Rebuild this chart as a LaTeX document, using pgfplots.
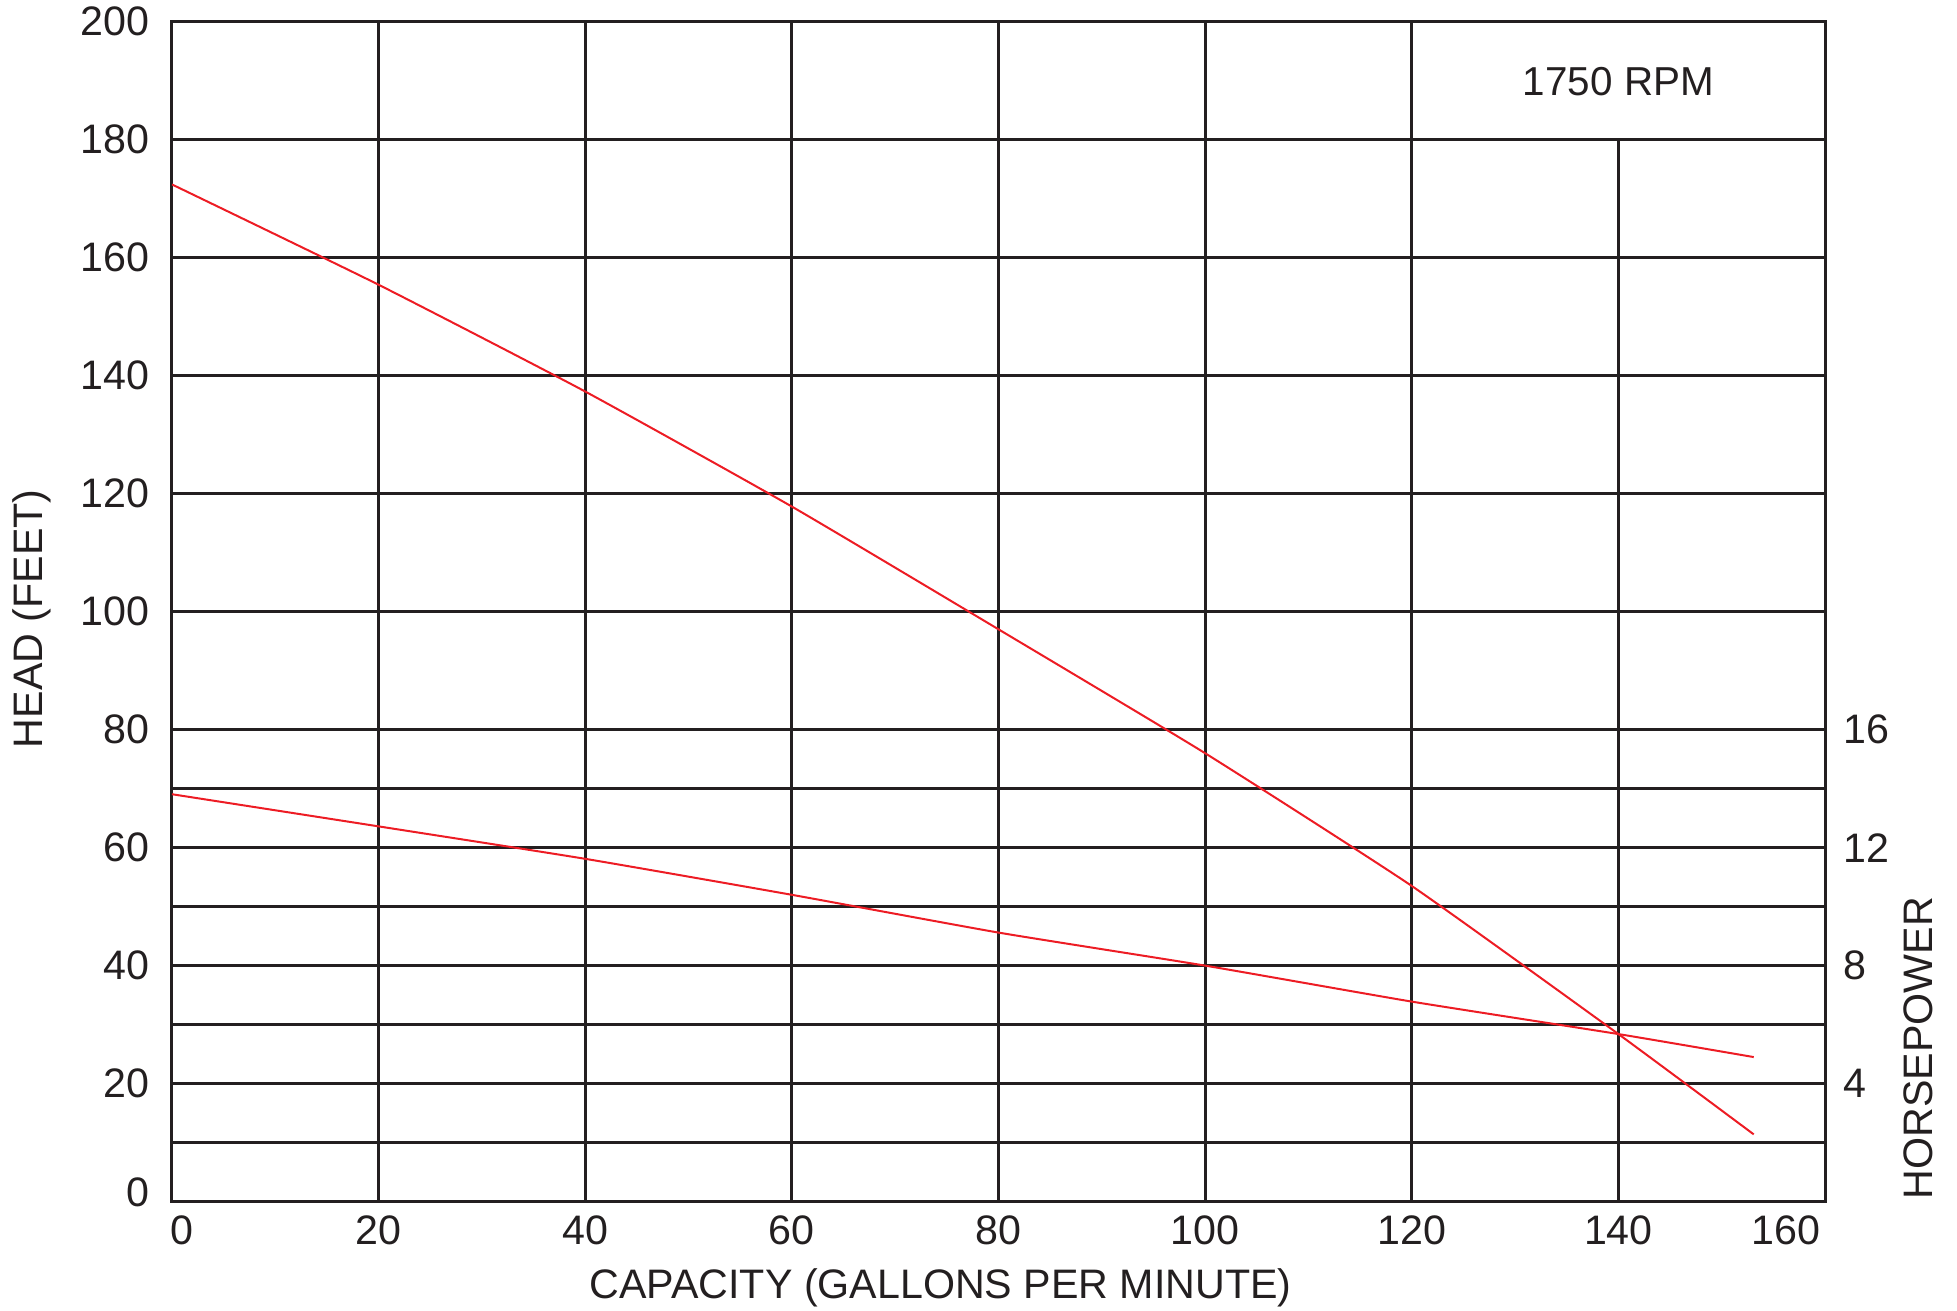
\documentclass[border=0pt]{standalone}
\usepackage{fontspec}
\setmainfont{Liberation Sans}
\usepackage{pgfplots}
\pgfplotsset{compat=1.18}
\definecolor{ink}{RGB}{35,31,32}
\definecolor{curve}{RGB}{237,28,36}
\begin{document}
\fontsize{10.3}{12}\selectfont
\begin{tikzpicture}
\begin{axis}[
  name=ax,
  scale only axis, width=413.25pt, height=295pt,
  xmin=0, xmax=160, ymin=0, ymax=200,
  xtick={0,20,40,60,80,100,120,140,160},
  ytick={0,20,40,60,80,100,120,140,160,180,200},
  xticklabels={\hspace*{5pt}0,20,40,60,80,100,120,140,160\hspace*{19.5pt}},
  yticklabels={\raisebox{5pt}{0},20,40,60,80,100,120,140,160,180,200},
  extra y ticks={10,30,50,70}, extra y tick labels={},
  extra y tick style={grid=major},
  ymajorgrids,
  grid style={ink, line width=0.75pt},
  axis line style={ink, line width=0.75pt},
  major tick length=0pt,
  tick label style={font=\fontsize{10.3}{12}\selectfont, text=ink},
  yticklabel style={xshift=-2pt},
  xlabel={CAPACITY (GALLONS PER MINUTE)},
  ylabel={HEAD (FEET)},
  every axis x label/.style={at={(axis description cs:0.465,-0.0732)}, anchor=center, font=\fontsize{10.3}{12}\selectfont, text=ink},
  every axis y label/.style={at={(axis description cs:-0.0845,0.494)}, rotate=90, anchor=center, font=\fontsize{10.3}{12}\selectfont, text=ink},
]
\draw[ink, line width=0.75pt] (axis cs:20,0) -- (axis cs:20,200);
\draw[ink, line width=0.75pt] (axis cs:40,0) -- (axis cs:40,200);
\draw[ink, line width=0.75pt] (axis cs:60,0) -- (axis cs:60,200);
\draw[ink, line width=0.75pt] (axis cs:80,0) -- (axis cs:80,200);
\draw[ink, line width=0.75pt] (axis cs:100,0) -- (axis cs:100,200);
\draw[ink, line width=0.75pt] (axis cs:120,0) -- (axis cs:120,200);
\draw[ink, line width=0.75pt] (axis cs:140,0) -- (axis cs:140,180);
\addplot[curve, line width=0.5pt, smooth, tension=0.3] coordinates {
  (0,172.4) (20,155.4) (40,137.3) (60,117.8) (80,97.0)
  (100,76.0) (120,53.5) (140,28.4) (153.1,11.4)
};
\node[font=\fontsize{10.1}{12}\selectfont, text=ink] at (axis cs:140,189.8) {1750 RPM};
\end{axis}
\begin{axis}[
  scale only axis, width=413.25pt, height=295pt,
  xmin=0, xmax=160, ymin=0, ymax=40,
  axis x line=none,
  axis y line*=right,
  ytick={4,8,12,16},
  yticklabels={4,8,12,16},
  axis line style={ink, line width=0.75pt},
  major tick length=0pt,
  tick label style={font=\fontsize{10.3}{12}\selectfont, text=ink},
  yticklabel style={xshift=1pt},
  ylabel={HORSEPOWER},
  every axis y label/.style={at={(axis description cs:1.0563,0.130)}, rotate=90, anchor=center, font=\fontsize{10.3}{12}\selectfont, text=ink},
]
\addplot[curve, line width=0.5pt, smooth, tension=0.3] coordinates {
  (0,13.81) (20,12.72) (40,11.62) (60,10.40) (80,9.12)
  (100,8.00) (120,6.78) (140,5.68) (153.1,4.90)
};
\end{axis}
\pgfresetboundingbox
\path (ax.south west) ++(-43pt,-27.3pt) coordinate (bl);
\path (ax.south west) ++(446.25pt,300.4pt) coordinate (tr);
\useasboundingbox (bl) rectangle (tr);
\end{tikzpicture}
\end{document}
